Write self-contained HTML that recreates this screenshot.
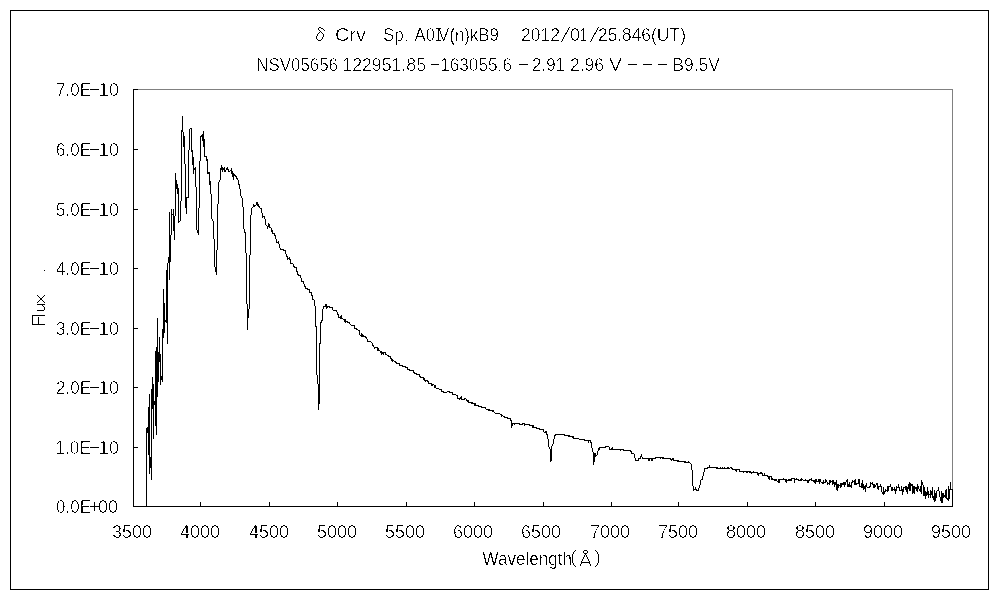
<!DOCTYPE html>
<html><head><meta charset="utf-8"><title>δ Crv spectrum</title>
<style>
html,body{margin:0;padding:0;background:#fff;}
body{width:1000px;height:600px;overflow:hidden;font-family:"Liberation Sans",sans-serif;}
svg{display:block;position:absolute;left:0;top:0;}
.h text{fill:none!important;stroke:none!important;}
text{font-family:"Liberation Sans",sans-serif;font-size:18.6px;fill:#000;stroke:#fff;stroke-width:0.25px;}
</style></head><body>
<svg width="1000" height="600" viewBox="0 0 1000 600" >
<defs><filter id="thr" x="0" y="0" width="1000" height="600" filterUnits="userSpaceOnUse" color-interpolation-filters="sRGB"><feColorMatrix type="matrix" values="0 0 0 0 0  0 0 0 0 0  0 0 0 0 0  -1 0 0 0 1"/><feComponentTransfer><feFuncA type="discrete" tableValues="0 1"/></feComponentTransfer></filter></defs>
<rect x="0" y="0" width="1000" height="600" fill="#fff"/>
<g shape-rendering="crispEdges">
<path d="M10 10h979v580h-979zM11 11v578h977v-578z" fill="#000" fill-rule="evenodd"/>
<path d="M133 89h820v418h-1v-417h-819z" fill="#808080"/>
<path d="M133 89h1v417h819v1h-820z" fill="#000"/>
<path d="M133 89h5v1h-5zM952 502h1v5h-1z" fill="#000"/>
<path d="M200 502h1v4h-1zM269 502h1v4h-1zM337 502h1v4h-1zM406 502h1v4h-1zM474 502h1v4h-1zM543 502h1v4h-1zM611 502h1v4h-1zM678 502h1v4h-1zM747 502h1v4h-1zM815 502h1v4h-1zM884 502h1v4h-1zM134 447h4v1h-4zM134 387h4v1h-4zM134 328h4v1h-4zM134 268h4v1h-4zM134 209h4v1h-4zM134 149h4v1h-4z" fill="#000"/>
<path d="M146 428h1v79h-1zM147 427h1v6h-1zM148 407h1v48h-1zM149 394h1v80h-1zM150 457h1v11h-1zM151 389h1v91h-1zM152 377h1v32h-1zM153 384h1v55h-1zM154 401h1v4h-1zM155 351h1v75h-1zM156 347h1v88h-1zM157 318h1v79h-1zM158 352h1v30h-1zM159 337h1v25h-1zM160 354h1v31h-1zM161 376h1v4h-1zM162 329h1v53h-1zM163 289h1v49h-1zM164 303h1v30h-1zM165 320h1v2h-1zM166 270h1v53h-1zM167 263h1v81h-1zM168 257h1v6h-1zM169 212h1v68h-1zM170 235h1v27h-1zM171 209h1v26h-1zM172 214h1v1h-1zM173 209h1v22h-1zM174 216h1v24h-1zM175 173h1v43h-1zM176 180h1v9h-1zM177 184h1v10h-1zM178 188h1v35h-1zM179 221h1v1h-1zM180 201h1v20h-1zM181 130h1v71h-1zM182 116h1v16h-1zM183 132h1v15h-1zM184 136h1v28h-1zM185 164h1v44h-1zM186 197h1v17h-1zM187 197h1v1h-1zM188 150h1v48h-1zM189 129h1v21h-1zM190 128h1v1h-1zM191 128h1v24h-1zM192 150h1v15h-1zM193 157h1v17h-1zM194 168h1v2h-1zM195 167h1v20h-1zM196 187h1v43h-1zM197 230h1v3h-1zM198 208h1v27h-1zM199 161h1v47h-1zM200 136h1v25h-1zM201 135h1v2h-1zM202 134h1v7h-1zM203 131h1v16h-1zM204 139h1v18h-1zM205 156h1v1h-1zM206 156h1v5h-1zM207 159h1v15h-1zM208 172h1v2h-1zM209 172h1v13h-1zM210 181h1v13h-1zM211 194h1v25h-1zM212 219h1v2h-1zM213 221h1v18h-1zM214 239h1v28h-1zM215 267h1v5h-1zM216 250h1v25h-1zM217 204h1v46h-1zM218 182h1v22h-1zM219 180h1v2h-1zM220 168h1v12h-1zM221 165h1v5h-1zM222 167h1v5h-1zM223 168h1v2h-1zM224 167h1v5h-1zM225 170h1v2h-1zM226 168h1v2h-1zM227 167h1v3h-1zM228 169h1v3h-1zM229 171h1v1h-1zM230 170h1v1h-1zM231 168h1v6h-1zM232 171h1v6h-1zM233 173h1v7h-1zM234 174h1v2h-1zM235 175h1v2h-1zM236 176h1v3h-1zM237 178h1v2h-1zM238 180h1v5h-1zM239 184h1v5h-1zM240 189h1v7h-1zM241 196h1v2h-1zM242 198h1v9h-1zM243 207h1v22h-1zM244 229h1v4h-1zM245 232h1v21h-1zM246 253h1v51h-1zM247 304h1v26h-1zM248 309h1v9h-1zM249 255h1v54h-1zM250 215h1v40h-1zM251 208h1v7h-1zM252 207h1v1h-1zM253 204h1v3h-1zM254 205h1v2h-1zM255 205h1v1h-1zM256 202h1v3h-1zM257 202h1v4h-1zM258 204h1v3h-1zM259 206h1v2h-1zM260 208h1v1h-1zM261 208h1v5h-1zM262 213h1v5h-1zM263 216h1v1h-1zM264 216h1v3h-1zM265 219h1v6h-1zM266 225h1v1h-1zM267 226h1v3h-1zM268 223h1v4h-1zM269 224h1v4h-1zM270 227h1v1h-1zM271 228h1v4h-1zM272 230h1v4h-1zM273 233h1v1h-1zM274 233h1v3h-1zM275 235h1v4h-1zM276 239h1v4h-1zM277 242h1v1h-1zM278 241h1v3h-1zM279 244h1v4h-1zM280 248h1v2h-1zM281 249h2v1h-2zM283 249h1v2h-1zM284 250h1v1h-1zM285 250h1v4h-1zM286 254h1v3h-1zM287 256h1v4h-1zM288 258h1v1h-1zM289 257h1v3h-1zM290 259h1v5h-1zM291 263h2v1h-2zM293 264h1v3h-1zM294 266h1v2h-1zM295 267h1v1h-1zM296 267h1v5h-1zM297 271h1v4h-1zM298 274h1v2h-1zM299 275h1v1h-1zM300 275h1v3h-1zM301 278h1v4h-1zM302 281h1v1h-1zM303 281h1v3h-1zM304 284h1v3h-1zM305 286h1v3h-1zM306 288h1v1h-1zM307 288h1v2h-1zM308 289h1v1h-1zM309 289h1v4h-1zM310 292h1v1h-1zM311 292h1v4h-1zM312 295h1v5h-1zM313 299h1v1h-1zM314 300h1v6h-1zM315 306h1v21h-1zM316 326h1v49h-1zM317 375h1v9h-1zM318 384h1v26h-1zM319 343h1v61h-1zM320 322h1v22h-1zM321 320h1v3h-1zM322 309h1v12h-1zM323 306h1v3h-1zM324 306h1v1h-1zM325 304h1v3h-1zM326 304h1v5h-1zM327 306h1v2h-1zM328 306h1v1h-1zM329 306h1v2h-1zM330 307h2v1h-2zM332 307h1v3h-1zM333 310h3v1h-3zM336 310h1v2h-1zM337 312h1v3h-1zM338 314h1v4h-1zM339 317h1v1h-1zM340 316h1v3h-1zM341 315h1v4h-1zM342 318h1v1h-1zM343 319h1v1h-1zM344 319h1v3h-1zM345 319h1v4h-1zM346 321h1v1h-1zM347 321h1v2h-1zM348 322h1v1h-1zM349 322h1v2h-1zM350 324h1v1h-1zM351 325h3v1h-3zM354 325h1v4h-1zM355 328h1v1h-1zM356 328h1v2h-1zM357 329h1v1h-1zM358 330h1v1h-1zM359 330h1v5h-1zM360 335h1v1h-1zM361 333h1v4h-1zM362 334h1v3h-1zM363 335h1v2h-1zM364 336h1v1h-1zM365 336h1v2h-1zM366 337h1v2h-1zM367 339h1v3h-1zM368 341h3v1h-3zM371 342h1v1h-1zM372 343h1v3h-1zM373 345h1v2h-1zM374 347h1v2h-1zM375 347h2v1h-2zM377 347h1v4h-1zM378 348h1v3h-1zM379 350h1v1h-1zM380 351h1v2h-1zM381 351h1v4h-1zM382 352h1v2h-1zM383 352h1v3h-1zM384 352h1v1h-1zM385 352h1v3h-1zM386 354h1v1h-1zM387 355h1v1h-1zM388 355h1v2h-1zM389 356h1v1h-1zM390 356h1v3h-1zM391 358h1v3h-1zM392 359h1v3h-1zM393 360h1v1h-1zM394 361h1v1h-1zM395 361h1v2h-1zM396 362h1v2h-1zM397 363h2v1h-2zM399 363h1v3h-1zM400 365h2v1h-2zM402 365h1v2h-1zM403 366h2v1h-2zM405 366h1v2h-1zM406 367h1v1h-1zM407 367h1v3h-1zM408 369h1v1h-1zM409 369h1v2h-1zM410 370h3v1h-3zM413 370h1v3h-1zM414 372h1v2h-1zM415 373h1v1h-1zM416 373h1v2h-1zM417 374h2v1h-2zM419 374h1v3h-1zM420 376h1v2h-1zM421 377h2v1h-2zM423 377h1v3h-1zM424 378h1v3h-1zM425 380h1v2h-1zM426 380h1v1h-1zM427 380h1v2h-1zM428 381h1v3h-1zM429 383h2v1h-2zM431 383h1v3h-1zM432 384h1v2h-1zM433 384h1v1h-1zM434 385h2v3h-2zM436 388h3v1h-3zM439 389h2v1h-2zM441 389h1v3h-1zM442 391h1v1h-1zM443 391h1v2h-1zM444 392h3v1h-3zM447 391h2v1h-2zM449 391h1v2h-1zM450 392h2v1h-2zM452 392h1v3h-1zM453 394h3v1h-3zM456 395h1v1h-1zM457 395h1v4h-1zM458 398h1v1h-1zM459 398h1v2h-1zM460 397h1v2h-1zM461 396h1v4h-1zM462 399h2v1h-2zM464 398h1v2h-1zM465 398h1v1h-1zM466 399h1v2h-1zM467 400h1v2h-1zM468 400h1v3h-1zM469 402h2v1h-2zM471 402h2v2h-2zM473 403h1v1h-1zM474 403h2v3h-2zM476 405h2v1h-2zM478 405h1v2h-1zM479 406h2v1h-2zM481 406h1v2h-1zM482 407h3v1h-3zM485 407h1v2h-1zM486 409h2v1h-2zM488 409h2v2h-2zM490 410h2v1h-2zM492 410h2v2h-2zM494 412h1v1h-1zM495 413h5v1h-5zM500 414h1v1h-1zM501 414h1v3h-1zM502 415h1v1h-1zM503 416h1v1h-1zM504 416h1v2h-1zM505 417h2v1h-2zM507 417h1v2h-1zM508 418h2v1h-2zM510 418h1v3h-1zM511 420h1v8h-1zM512 423h1v3h-1zM513 423h1v1h-1zM514 423h1v2h-1zM515 423h4v1h-4zM519 423h1v2h-1zM520 424h2v1h-2zM522 423h1v2h-1zM523 423h1v1h-1zM524 423h1v3h-1zM525 424h4v1h-4zM529 424h1v2h-1zM530 425h2v1h-2zM532 425h2v3h-2zM534 427h2v1h-2zM536 427h1v2h-1zM537 428h2v1h-2zM539 428h1v2h-1zM540 429h3v1h-3zM543 429h1v3h-1zM544 432h1v1h-1zM545 431h1v2h-1zM546 431h1v4h-1zM547 434h1v5h-1zM548 439h1v8h-1zM549 447h1v2h-1zM550 449h1v13h-1zM551 446h1v15h-1zM552 444h1v2h-1zM553 439h1v5h-1zM554 435h1v4h-1zM555 434h1v2h-1zM556 434h8v1h-8zM564 434h1v2h-1zM565 435h3v1h-3zM568 435h2v2h-2zM570 436h2v1h-2zM572 436h1v2h-1zM573 436h1v3h-1zM574 438h5v1h-5zM579 439h5v1h-5zM584 439h1v2h-1zM585 440h3v1h-3zM588 440h1v3h-1zM589 440h1v1h-1zM590 440h1v3h-1zM591 442h1v6h-1zM592 448h1v4h-1zM593 452h1v13h-1zM594 453h1v9h-1zM595 453h1v4h-1zM596 455h1v1h-1zM597 451h1v4h-1zM598 448h1v3h-1zM599 447h1v3h-1zM600 447h5v1h-5zM605 446h1v2h-1zM606 446h3v1h-3zM609 447h1v3h-1zM610 449h1v1h-1zM611 448h1v2h-1zM612 447h1v3h-1zM613 449h7v1h-7zM620 449h1v2h-1zM621 449h2v1h-2zM623 449h1v2h-1zM624 450h6v1h-6zM630 450h1v2h-1zM631 451h1v3h-1zM632 453h2v1h-2zM634 454h1v4h-1zM635 458h1v3h-1zM636 460h2v1h-2zM638 458h1v3h-1zM639 458h1v1h-1zM640 456h1v3h-1zM641 454h1v3h-1zM642 457h1v2h-1zM643 458h5v1h-5zM648 458h2v3h-2zM650 458h1v1h-1zM651 458h2v3h-2zM653 458h2v1h-2zM655 457h1v2h-1zM656 457h4v1h-4zM660 457h1v2h-1zM661 457h1v1h-1zM662 457h2v2h-2zM664 458h6v1h-6zM670 458h1v2h-1zM671 459h1v2h-1zM672 458h1v2h-1zM673 458h1v3h-1zM674 460h3v1h-3zM677 460h2v2h-2zM679 461h5v1h-5zM684 461h2v2h-2zM686 462h2v1h-2zM688 461h1v2h-1zM689 462h1v1h-1zM690 463h1v1h-1zM691 464h1v6h-1zM692 470h1v16h-1zM693 486h1v5h-1zM694 489h1v1h-1zM695 487h1v3h-1zM696 489h1v2h-1zM697 490h1v1h-1zM698 488h1v3h-1zM699 485h1v3h-1zM700 480h1v5h-1zM701 479h1v1h-1zM702 476h1v4h-1zM703 472h1v4h-1zM704 468h1v4h-1zM705 468h2v1h-2zM707 467h1v2h-1zM708 467h1v1h-1zM709 465h1v3h-1zM710 467h6v1h-6zM716 467h2v2h-2zM718 468h2v1h-2zM720 467h1v2h-1zM721 468h1v1h-1zM722 467h1v2h-1zM723 468h1v1h-1zM724 467h1v2h-1zM725 468h2v1h-2zM727 467h2v2h-2zM729 468h1v1h-1zM730 467h1v1h-1zM731 467h1v2h-1zM732 468h1v2h-1zM733 469h2v1h-2zM735 469h1v2h-1zM736 469h1v3h-1zM737 469h2v1h-2zM739 469h1v3h-1zM740 471h3v1h-3zM743 471h1v2h-1zM744 471h2v1h-2zM746 471h2v2h-2zM748 471h1v1h-1zM749 471h2v2h-2zM751 472h1v2h-1zM752 472h1v1h-1zM753 471h1v2h-1zM754 472h3v1h-3zM757 472h1v3h-1zM758 473h1v3h-1zM759 473h1v1h-1zM760 472h2v2h-2zM762 473h1v3h-1zM763 475h1v1h-1zM764 473h1v3h-1zM765 475h2v1h-2zM767 475h1v2h-1zM768 476h1v3h-1zM769 476h1v4h-1zM770 476h1v1h-1zM771 476h1v4h-1zM772 478h1v2h-1zM773 479h1v1h-1zM774 479h3v2h-3zM777 481h1v1h-1zM778 479h2v4h-2zM780 479h3v1h-3zM783 478h1v2h-1zM784 479h1v1h-1zM785 479h1v3h-1zM786 479h1v4h-1zM787 480h1v1h-1zM788 479h3v2h-3zM791 478h1v3h-1zM792 478h2v1h-2zM794 478h1v5h-1zM795 479h1v1h-1zM796 478h1v2h-1zM797 479h1v1h-1zM798 479h1v2h-1zM799 480h1v1h-1zM800 479h1v2h-1zM801 478h1v3h-1zM802 479h1v1h-1zM803 480h2v1h-2zM805 479h1v2h-1zM806 480h1v1h-1zM807 480h2v3h-2zM809 479h1v2h-1zM810 479h1v1h-1zM811 478h1v3h-1zM812 480h1v1h-1zM813 480h1v2h-1zM814 480h1v3h-1zM815 479h1v5h-1zM816 479h1v3h-1zM817 481h1v1h-1zM818 479h1v3h-1zM819 479h1v5h-1zM820 479h1v3h-1zM821 482h1v1h-1zM822 482h1v2h-1zM823 480h1v4h-1zM824 482h1v1h-1zM825 479h1v4h-1zM826 480h1v2h-1zM827 482h1v3h-1zM828 483h1v1h-1zM829 480h1v5h-1zM830 480h1v3h-1zM831 481h1v1h-1zM832 480h1v5h-1zM833 480h1v4h-1zM834 482h1v5h-1zM835 482h1v3h-1zM836 480h1v10h-1zM837 484h1v7h-1zM838 484h1v4h-1zM839 485h1v1h-1zM840 483h1v5h-1zM841 483h1v4h-1zM842 483h1v2h-1zM843 482h1v3h-1zM844 482h1v5h-1zM845 482h1v3h-1zM846 480h1v2h-1zM847 479h1v8h-1zM848 484h1v3h-1zM849 482h1v5h-1zM850 485h1v2h-1zM851 482h1v6h-1zM852 480h1v3h-1zM853 481h1v1h-1zM854 480h1v5h-1zM855 479h1v6h-1zM856 483h1v2h-1zM857 483h1v1h-1zM858 479h1v5h-1zM859 479h1v8h-1zM860 486h1v1h-1zM861 483h1v5h-1zM862 480h1v8h-1zM863 484h1v6h-1zM864 486h1v3h-1zM865 485h1v7h-1zM866 483h1v4h-1zM867 487h2v1h-2zM869 486h1v2h-1zM870 482h1v5h-1zM871 483h1v1h-1zM872 482h1v3h-1zM873 484h2v4h-2zM875 485h1v2h-1zM876 483h1v2h-1zM877 483h1v6h-1zM878 486h1v4h-1zM879 486h1v1h-1zM880 484h1v3h-1zM881 486h1v6h-1zM882 492h1v2h-1zM883 487h1v8h-1zM884 491h1v3h-1zM885 489h1v3h-1zM886 490h1v1h-1zM887 486h1v6h-1zM888 486h1v5h-1zM889 486h1v1h-1zM890 484h1v3h-1zM891 487h2v4h-2zM893 489h1v1h-1zM894 487h1v4h-1zM895 489h1v5h-1zM896 486h1v5h-1zM897 487h1v1h-1zM898 484h1v4h-1zM899 487h1v4h-1zM900 490h1v1h-1zM901 486h1v5h-1zM902 489h1v6h-1zM903 487h1v5h-1zM904 487h1v1h-1zM905 486h1v4h-1zM906 486h1v6h-1zM907 487h1v7h-1zM908 484h1v5h-1zM909 482h1v9h-1zM910 483h1v8h-1zM911 484h1v2h-1zM912 484h1v10h-1zM913 486h1v7h-1zM914 486h1v8h-1zM915 487h1v2h-1zM916 487h1v4h-1zM917 484h1v8h-1zM918 486h1v3h-1zM919 489h1v2h-1zM920 486h1v6h-1zM921 480h1v14h-1zM922 482h1v3h-1zM923 485h1v11h-1zM924 487h1v9h-1zM925 491h1v8h-1zM926 492h1v4h-1zM927 487h1v8h-1zM928 491h1v7h-1zM929 494h1v1h-1zM930 490h1v8h-1zM931 491h1v4h-1zM932 487h1v11h-1zM933 496h1v4h-1zM934 490h1v12h-1zM935 493h1v8h-1zM936 491h1v7h-1zM937 490h1v1h-1zM938 487h1v4h-1zM939 491h1v6h-1zM940 497h1v4h-1zM941 491h1v12h-1zM942 493h1v10h-1zM943 493h1v5h-1zM944 495h1v2h-1zM945 490h1v8h-1zM946 489h1v10h-1zM947 498h1v2h-1zM948 486h1v15h-1zM949 489h1v10h-1zM950 482h1v8h-1zM951 489h1v1h-1zM952 489h1v18h-1z" fill="#000"/>
<rect x="44" y="270" width="1" height="1" fill="#000"/>
<path d="M32 324h13v1h-13zM32 315h1v10h-1zM38 317h1v8h-1zM32 315h13v1h-13zM37 310h7v1h-7zM37 304h8v1h-8zM42 305h1v1h-1zM43 306h1v1h-1zM44 307h1v3h-1zM37 295h1v1h-1zM38 296h1v1h-1zM39 297h1v1h-1zM40 298h2v2h-2zM42 300h1v1h-1zM43 301h1v1h-1zM44 302h1v1h-1zM42 297h1v1h-1zM43 296h1v1h-1zM44 295h1v1h-1zM39 300h1v1h-1zM38 301h1v1h-1zM37 302h1v1h-1zM575 550h1v1h-1zM574 551h1v1h-1zM573 552h1v2h-1zM572 554h1v9h-1zM573 563h1v2h-1zM574 565h1v1h-1zM575 566h1v1h-1zM595 550h1v1h-1zM596 551h1v1h-1zM597 552h1v2h-1zM598 554h1v9h-1zM597 563h1v2h-1zM596 565h1v1h-1zM595 566h1v1h-1zM584 550h3v1h-3zM583 551h1v2h-1zM587 551h1v2h-1zM584 553h3v1h-3zM585 554h1v1h-1zM584 555h1v2h-1zM583 557h1v2h-1zM582 559h1v2h-1zM581 561h1v3h-1zM580 564h1v2h-1zM586 555h1v2h-1zM587 557h1v2h-1zM588 559h1v2h-1zM589 561h1v3h-1zM590 564h1v2h-1zM582 562h7v1h-7zM90 506h9v1h-9zM94 502h1v9h-1zM90 447h9v1h-9zM90 387h9v1h-9zM90 328h9v1h-9zM90 268h9v1h-9zM90 209h9v1h-9zM90 149h9v1h-9zM90 89h9v1h-9zM319 27h2v1h-2zM318 28h1v1h-1zM321 28h2v1h-2zM318 29h1v1h-1zM323 29h1v1h-1zM319 30h1v1h-1zM324 30h1v1h-1zM320 31h1v1h-1zM319 32h1v1h-1zM321 32h1v1h-1zM318 33h1v1h-1zM322 33h1v1h-1zM317 34h1v2h-1zM323 34h1v3h-1zM316 36h1v3h-1zM322 37h1v2h-1zM317 39h1v1h-1zM321 39h1v1h-1zM318 40h3v1h-3zM436 28h5v1h-5zM436 40h5v1h-5zM438 28h1v13h-1z" fill="#000"/>
<path d="M561.5 41.6L569.5 27.4M590.5 41.6L598.5 27.4" stroke="#000" stroke-width="1" fill="none"/>
</g>
<g filter="url(#thr)">
<rect x="0" y="0" width="1000" height="600" fill="#fff"/>
<text x="335.00" y="41" textLength="31.00" lengthAdjust="spacingAndGlyphs">Crv</text>
<text x="383.00" y="41" textLength="25.60" lengthAdjust="spacingAndGlyphs">Sp.</text>
<text x="414.60" y="41" textLength="20.40" lengthAdjust="spacingAndGlyphs">A0</text>
<text x="438.00" y="41" textLength="61.00" lengthAdjust="spacingAndGlyphs">V(n)kB9</text>
<text x="521.00" y="41" textLength="39.00" lengthAdjust="spacingAndGlyphs">2012</text>
<text x="570.00" y="41" textLength="10.00" lengthAdjust="spacingAndGlyphs">0</text>
<text x="580.00" y="41" textLength="7.00" lengthAdjust="spacingAndGlyphs">1</text>
<text x="598.00" y="41" textLength="53.00" lengthAdjust="spacingAndGlyphs">25.846</text>
<text x="651.00" y="41" textLength="35.00" lengthAdjust="spacingAndGlyphs">(UT)</text>
<text x="256.30" y="71" textLength="81.70" lengthAdjust="spacingAndGlyphs">NSV05656</text>
<text x="342.30" y="71" textLength="83.70" lengthAdjust="spacingAndGlyphs">122951.85</text>
<text x="430.00" y="71" textLength="82.00" lengthAdjust="spacingAndGlyphs">−163055.6</text>
<text x="518.00" y="71" textLength="11.00" lengthAdjust="spacingAndGlyphs">−</text>
<text x="532.00" y="71" textLength="33.00" lengthAdjust="spacingAndGlyphs">2.91</text>
<text x="570.00" y="71" textLength="34.00" lengthAdjust="spacingAndGlyphs">2.96</text>
<text x="609.00" y="71" textLength="13.00" lengthAdjust="spacingAndGlyphs">V</text>
<text x="627.00" y="71" textLength="11.00" lengthAdjust="spacingAndGlyphs">−</text>
<text x="642.00" y="71" textLength="11.00" lengthAdjust="spacingAndGlyphs">−</text>
<text x="657.00" y="71" textLength="11.00" lengthAdjust="spacingAndGlyphs">−</text>
<text x="672.30" y="71" textLength="47.70" lengthAdjust="spacingAndGlyphs">B9.5V</text>
<text x="56.00" y="513" textLength="35.00" lengthAdjust="spacingAndGlyphs">0.0E</text>
<text x="98.00" y="513" textLength="20.00" lengthAdjust="spacingAndGlyphs">00</text>
<text x="55.40" y="454" textLength="35.60" lengthAdjust="spacingAndGlyphs">1.0E</text>
<text x="98.40" y="454" textLength="20.60" lengthAdjust="spacingAndGlyphs">10</text>
<text x="56.00" y="394" textLength="35.00" lengthAdjust="spacingAndGlyphs">2.0E</text>
<text x="98.40" y="394" textLength="20.60" lengthAdjust="spacingAndGlyphs">10</text>
<text x="56.00" y="335" textLength="35.00" lengthAdjust="spacingAndGlyphs">3.0E</text>
<text x="98.40" y="335" textLength="20.60" lengthAdjust="spacingAndGlyphs">10</text>
<text x="56.00" y="275" textLength="35.00" lengthAdjust="spacingAndGlyphs">4.0E</text>
<text x="98.40" y="275" textLength="20.60" lengthAdjust="spacingAndGlyphs">10</text>
<text x="56.00" y="216" textLength="35.00" lengthAdjust="spacingAndGlyphs">5.0E</text>
<text x="98.40" y="216" textLength="20.60" lengthAdjust="spacingAndGlyphs">10</text>
<text x="56.00" y="156" textLength="35.00" lengthAdjust="spacingAndGlyphs">6.0E</text>
<text x="98.40" y="156" textLength="20.60" lengthAdjust="spacingAndGlyphs">10</text>
<text x="56.00" y="96" textLength="35.00" lengthAdjust="spacingAndGlyphs">7.0E</text>
<text x="98.40" y="96" textLength="20.60" lengthAdjust="spacingAndGlyphs">10</text>
<text x="112.00" y="538" textLength="40.00" lengthAdjust="spacingAndGlyphs">3500</text>
<text x="180.00" y="538" textLength="40.00" lengthAdjust="spacingAndGlyphs">4000</text>
<text x="249.00" y="538" textLength="40.00" lengthAdjust="spacingAndGlyphs">4500</text>
<text x="317.00" y="538" textLength="40.00" lengthAdjust="spacingAndGlyphs">5000</text>
<text x="385.00" y="538" textLength="40.00" lengthAdjust="spacingAndGlyphs">5500</text>
<text x="453.00" y="538" textLength="40.00" lengthAdjust="spacingAndGlyphs">6000</text>
<text x="521.00" y="538" textLength="40.00" lengthAdjust="spacingAndGlyphs">6500</text>
<text x="590.00" y="538" textLength="40.00" lengthAdjust="spacingAndGlyphs">7000</text>
<text x="658.00" y="538" textLength="40.00" lengthAdjust="spacingAndGlyphs">7500</text>
<text x="726.00" y="538" textLength="40.00" lengthAdjust="spacingAndGlyphs">8000</text>
<text x="795.00" y="538" textLength="40.00" lengthAdjust="spacingAndGlyphs">8500</text>
<text x="863.00" y="538" textLength="40.00" lengthAdjust="spacingAndGlyphs">9000</text>
<text x="931.00" y="538" textLength="40.00" lengthAdjust="spacingAndGlyphs">9500</text>
<text x="482.60" y="565" textLength="89.40" lengthAdjust="spacingAndGlyphs" style="stroke-width:0.18px">Wavelength</text>
</g>
<g class="h">
<text x="316" y="41">δ</text><text x="436" y="41">I</text><text x="561" y="41">/</text><text x="590" y="41">/</text>
<text x="572" y="565">(Å)</text><text transform="translate(45 326) rotate(-90)">Flux</text>
<text x="90" y="513">+</text><text x="90" y="454">−</text><text x="90" y="394">−</text><text x="90" y="335">−</text><text x="90" y="275">−</text><text x="90" y="216">−</text><text x="90" y="156">−</text><text x="90" y="96">−</text>
</g>
</svg>
</body></html>
